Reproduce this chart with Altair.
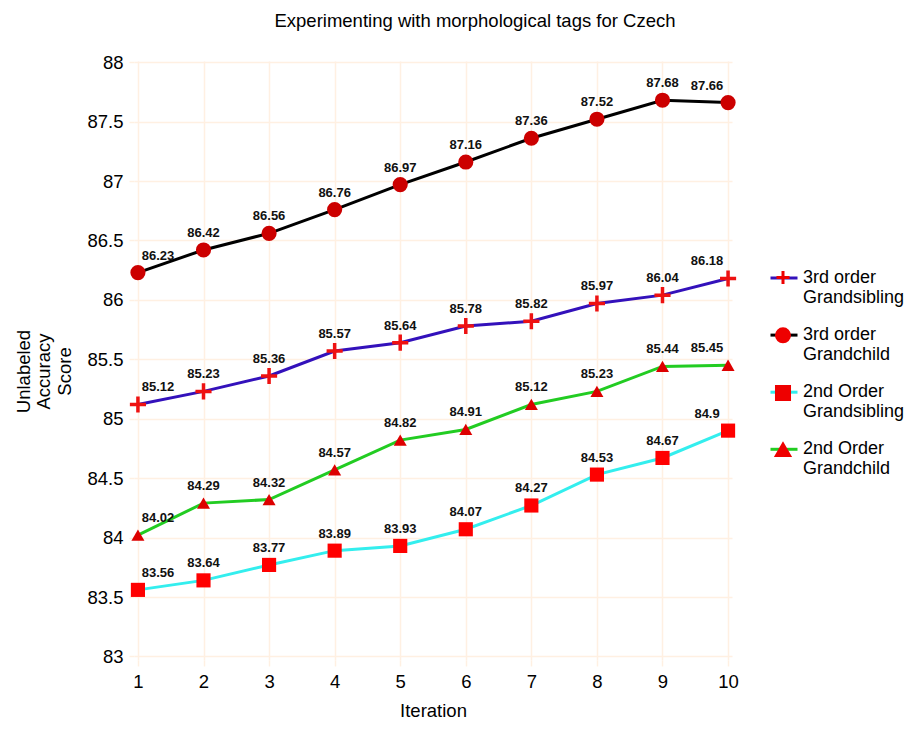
import altair as alt
import pandas as pd

iterations = [1, 2, 3, 4, 5, 6, 7, 8, 9, 10]
series_names = ["3rd order Grandsibling", "3rd order Grandchild",
                "2nd Order Grandsibling", "2nd Order Grandchild"]
gs3 = [85.12, 85.23, 85.36, 85.57, 85.64, 85.78, 85.82, 85.97, 86.04, 86.18]
gc3 = [86.23, 86.42, 86.56, 86.76, 86.97, 87.16, 87.36, 87.52, 87.68, 87.66]
gs2 = [83.56, 83.64, 83.77, 83.89, 83.93, 84.07, 84.27, 84.53, 84.67, 84.9]
gc2 = [84.02, 84.29, 84.32, 84.57, 84.82, 84.91, 85.12, 85.23, 85.44, 85.45]
values_by_series = [gs3, gc3, gs2, gc2]

line_colors = ["#3311BB", "#000000", "#33EEEE", "#22CC22"]
marker_fill = ["#EE1111", "#CC0000", "#FF0000", "#DD0000"]
marker_stroke = ["#EE1111", "transparent", "transparent", "transparent"]
marker_shapes = ["M-1,0H1M0,-1V1", "circle", "square", "triangle-up"]
marker_sizes = [260, 170, 290, 260]
y_ticks = [83, 83.25, 83.5, 83.75, 84, 84.25, 84.5, 84.75, 85, 85.25, 85.5,
           85.75, 86, 86.25, 86.5, 86.75, 87, 87.25, 87.5, 87.75, 88]

rows = []
for name, vals in zip(series_names, values_by_series):
    for it, v in zip(iterations, vals):
        rows.append({"Series": name, "Iteration": it, "Score": v, "Label": str(v)})
df = pd.DataFrame(rows)

FONT = "Liberation Sans"
GRID = "#FFF0E2"

label_expr = ("[slice(datum.label, 0, lastindexof(datum.label, ' ')), "
              "slice(datum.label, lastindexof(datum.label, ' ') + 1)]")

x_enc = alt.X("Iteration:Q",
              scale=alt.Scale(domain=[0.94, 10.06], nice=False, zero=False),
              axis=alt.Axis(values=iterations, format="d", title="Iteration",
                            grid=True, gridColor=GRID, gridWidth=1.5,
                            domain=False, tickColor=GRID, tickWidth=1.5, tickSize=6,
                            labelFontSize=18.5, labelFont=FONT, labelColor="#000000",
                            labelPadding=6, labelFlush=False,
                            titleFontSize=18.5, titleFont=FONT, titleFontWeight="normal",
                            titleColor="#000000", titlePadding=11))
y_enc = alt.Y("Score:Q",
              scale=alt.Scale(domain=[82.97, 88.01], nice=False, zero=False),
              axis=alt.Axis(values=y_ticks,
                            labelExpr="datum.value % 0.5 === 0 ? '' + datum.value : ''",
                            labelOverlap=False, labelFlush=False,
                            title=["Unlabeled", "Accuracy", "Score"],
                            grid=True, gridColor=GRID, gridWidth=1.5,
                            domain=False, tickColor=GRID, tickWidth=1.5, tickSize=5,
                            tickOpacity={"condition": {"test": "datum.value % 0.5 !== 0", "value": 0}, "value": 1},
                            labelFontSize=18.5, labelFont=FONT, labelColor="#000000",
                            labelPadding=6,
                            titleFontSize=18.5, titleFont=FONT, titleFontWeight="normal",
                            titleColor="#000000", titleAngle=270, titleAlign="center",
                            titleBaseline="middle", titleLineHeight=20.5,
                            titleX=-111, titleY=310))

base = alt.Chart(df)

lines = base.mark_line(strokeWidth=3).encode(
    x=x_enc, y=y_enc,
    color=alt.Color("Series:N", sort=series_names,
                    scale=alt.Scale(range=line_colors),
                    legend=alt.Legend(orient="none", legendX=635, legendY=202, title=None,
                                      symbolType="stroke", symbolSize=729,
                                      symbolStrokeWidth=3, labelExpr=label_expr,
                                      labelFontSize=18, labelFont=FONT,
                                      labelColor="#000000", labelOffset=4,
                                      labelBaseline="middle",
                                      labelLimit=300, rowPadding=13.1, padding=0)),
)

points = base.transform_calculate(Model="datum.Series").mark_point(
    filled=True, opacity=1, strokeWidth=3.5
).encode(
    x="Iteration:Q", y="Score:Q",
    shape=alt.Shape("Model:N", sort=series_names,
                    scale=alt.Scale(range=marker_shapes),
                    legend=alt.Legend(orient="none", legendX=640, legendY=207.5, title=None,
                                      labelExpr="[' ', ' ']", labelOpacity=0,
                                      labelFontSize=18, labelFont=FONT, labelOffset=4,
                                      labelBaseline="middle",
                                      labelLimit=300, rowPadding=15.8, padding=0,
                                      symbolSize=170, symbolFillColor="#EE0000",
                                      symbolStrokeColor="#EE0000",
                                      symbolStrokeWidth=3, symbolOpacity=1)),
    fill=alt.Fill("Model:N", sort=series_names,
                  scale=alt.Scale(range=marker_fill), legend=None),
    stroke=alt.Stroke("Model:N", sort=series_names,
                      scale=alt.Scale(range=marker_stroke), legend=None),
    size=alt.Size("Model:N", sort=series_names,
                  scale=alt.Scale(range=marker_sizes), legend=None),
)

def labels(cond, dx):
    return base.transform_filter(cond).mark_text(
        font=FONT, fontSize=13, fontWeight="bold", color="#111111",
        baseline="middle", align="center", dx=dx, dy=-17
    ).encode(x="Iteration:Q", y="Score:Q", text="Label:N")

text_first = labels("datum.Iteration === 1", 20)
text_mid = labels("datum.Iteration > 1 && datum.Iteration < 10", 0)
text_last = labels("datum.Iteration === 10", -21)

chart = alt.layer(lines, points, text_first, text_mid, text_last).properties(
    width=598, height=599,
    padding={"left": 126, "top": 53, "right": 173, "bottom": 61},
    autosize=alt.AutoSizeParams(type="none"),
    title=alt.TitleParams(text="Experimenting with morphological tags for Czech",
                          fontSize=18.5, fontWeight="normal", font=FONT, color="#000000",
                          anchor="middle", frame="group", orient="top",
                          dx=42, offset=23),
    background="white",
).configure_view(stroke=None)

chart.save("out.html", embed_options={"renderer": "svg", "actions": False})
